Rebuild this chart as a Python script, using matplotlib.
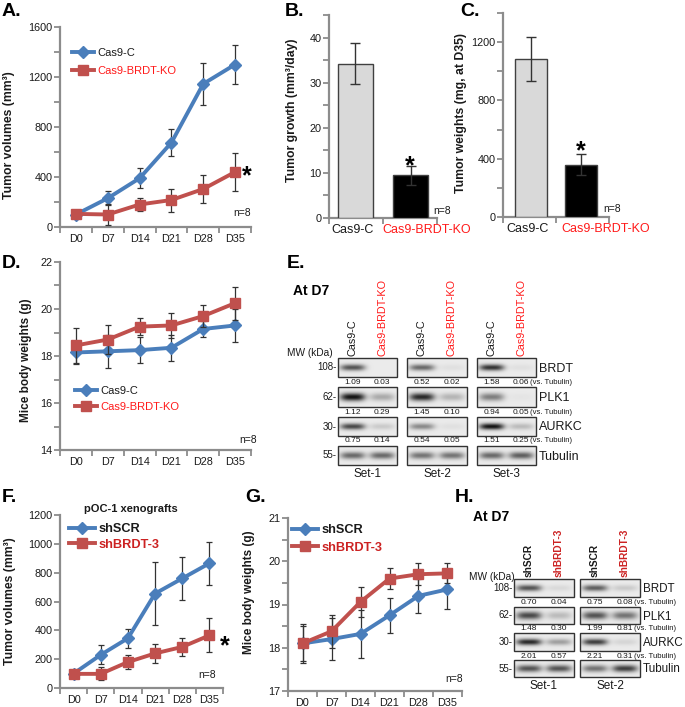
import numpy as np
import matplotlib
matplotlib.use('Agg')
import matplotlib.pyplot as plt
from matplotlib.transforms import ScaledTranslation
from matplotlib.lines import Line2D
from matplotlib.patches import Rectangle

W, H = 685, 707
plt.rcParams['font.family'] = ['Liberation Sans', 'DejaVu Sans']

days = ['D0', 'D7', 'D14', 'D21', 'D28', 'D35']

# Panel A: tumor volumes (mm3)
a_ctrl = [100, 230, 390, 675, 1145, 1300]
a_ctrl_err = [20, 55, 80, 110, 170, 155]
a_ko = [105, 100, 180, 216, 304, 440]
a_ko_err = [25, 85, 50, 92, 112, 155]

# Panels B, C
bc_groups = ['Cas9-C', 'Cas9-BRDT-KO']
b_vals = [34.2, 9.5]
b_err = [4.5, 2.1]
c_vals = [1085, 360]
c_err = [150, 75]

# Panel D: body weights (g)
d_ctrl = [18.15, 18.2, 18.25, 18.35, 19.15, 19.3]
d_ctrl_err = [0.5, 0.7, 0.55, 0.55, 0.35, 0.7]
d_ko = [18.45, 18.7, 19.25, 19.3, 19.7, 20.25]
d_ko_err = [0.75, 0.6, 0.35, 0.55, 0.45, 0.7]

# Panel F: pOC-1 tumor volumes
f_ctrl = [100, 230, 345, 655, 760, 865]
f_ctrl_err = [15, 65, 65, 220, 150, 148]
f_kd = [98, 98, 180, 240, 285, 365]
f_kd_err = [20, 45, 50, 65, 60, 118]

# Panel G: body weights (g)
g_ctrl = [18.1, 18.2, 18.32, 18.75, 19.2, 19.35]
g_ctrl_err = [0.45, 0.48, 0.55, 0.4, 0.4, 0.45]
g_kd = [18.1, 18.38, 19.06, 19.6, 19.7, 19.72]
g_kd_err = [0.4, 0.38, 0.35, 0.25, 0.26, 0.23]

# Panel E western blots
e_proteins = ['BRDT', 'PLK1', 'AURKC', 'Tubulin']
e_mw = ['108-', '62-', '30-', '55-']
e_sets = ['Set-1', 'Set-2', 'Set-3']
e_lanes = ['Cas9-C', 'Cas9-BRDT-KO']
e_brdt_quant = [['1.09', '0.03'], ['0.52', '0.02'], ['1.58', '0.06']]
e_plk1_quant = [['1.12', '0.29'], ['1.45', '0.10'], ['0.94', '0.05']]
e_aurkc_quant = [['0.75', '0.14'], ['0.54', '0.05'], ['1.51', '0.25']]
e_brdt_band = [[0.7, 0.0], [0.6, 0.05], [0.85, 0.05]]
e_plk1_band = [[1.0, 0.3], [0.9, 0.25], [0.5, 0.03]]
e_aurkc_band = [[0.75, 0.15], [0.45, 0.05], [1.0, 0.22]]
e_tub_band = [[0.6, 0.6], [0.55, 0.55], [0.6, 0.65]]

# Panel H western blots
h_sets = ['Set-1', 'Set-2']
h_lanes = ['shSCR', 'shBRDT-3']
h_brdt_quant = [['0.70', '0.04'], ['0.75', '0.08']]
h_plk1_quant = [['1.48', '0.30'], ['1.99', '0.81']]
h_aurkc_quant = [['2.01', '0.57'], ['2.21', '0.31']]
h_brdt_band = [[0.7, 0.08], [0.65, 0.15]]
h_plk1_band = [[0.75, 0.22], [0.7, 0.55]]
h_aurkc_band = [[0.9, 0.35], [0.8, 0.1]]
h_tub_band = [[0.7, 0.7], [0.55, 0.8]]

BLUE = '#4a7ebb'
RED = '#c0504d'
GRAY = '#8c8c8c'
ERR = '#333333'
TXT = '#1a1a1a'
KO_RED = '#ff1a1a'
SH_RED = '#cc2222'

fig = plt.figure(figsize=(W / 100, H / 100), dpi=100)


def px_axes(l, t, r, b):
    return fig.add_axes([l / W, 1 - b / H, (r - l) / W, (b - t) / H])


def style(ax):
    for s in ['top', 'right']:
        ax.spines[s].set_visible(False)
    for s in ['left', 'bottom']:
        ax.spines[s].set_color(GRAY)
        ax.spines[s].set_linewidth(1.6)
    ax.tick_params(which='both', colors=GRAY, labelcolor=TXT, width=1.3,
                   length=4, labelsize=7.8, pad=1.5)
    ax.set_facecolor('none')


def line_panel(ax, ctrl, ctrl_err, ko, ko_err, ylim, yticks, yminor):
    style(ax)
    x = np.arange(len(days))
    ax.errorbar(x, ctrl, yerr=ctrl_err, color=BLUE, lw=2.8, marker='D', ms=6.5,
                ecolor=ERR, elinewidth=0.9, capsize=2.5, capthick=0.9, zorder=3)
    ax.errorbar(x, ko, yerr=ko_err, color=RED, lw=2.8, marker='s', ms=7.5,
                ecolor=ERR, elinewidth=0.9, capsize=2.5, capthick=0.9, zorder=4)
    ax.set_xlim(-0.5, len(days) - 0.5)
    ax.set_xticks(x)
    ax.set_xticklabels(days)
    ax.tick_params(axis='x', which='major', length=0, pad=5)
    ax.set_xticks(np.arange(-0.5, len(days), 1), minor=True)
    ax.set_ylim(*ylim)
    ax.set_yticks(yticks)
    if yminor is not None:
        ax.set_yticks(yminor, minor=True)


def legend(ax, x_px, y_px, labels, colors, fs, bold, spacing):
    handles = [Line2D([], [], color=BLUE, lw=2.8, marker='D', ms=6.5),
               Line2D([], [], color=RED, lw=2.8, marker='s', ms=7.5)]
    leg = ax.legend(handles, labels, loc='upper left',
                    bbox_to_anchor=(x_px / W, 1 - y_px / H),
                    bbox_transform=fig.transFigure, frameon=False, fontsize=fs,
                    handlelength=2.0, handletextpad=0.3, labelspacing=spacing,
                    borderpad=0, borderaxespad=0, numpoints=1)
    for t, c in zip(leg.get_texts(), colors):
        t.set_color(c)
        if bold:
            t.set_fontweight('bold')


def bar_panel(ax, vals, err, ylim, yticks, yminor, xlim, shifts):
    style(ax)
    x = np.arange(len(bc_groups))
    ax.bar(x, vals, width=0.64, color=['#d9d9d9', '#000000'], edgecolor='#404040',
           lw=1.0, yerr=err, ecolor=ERR, capsize=3.5,
           error_kw=dict(elinewidth=1.0, capthick=1.0), zorder=3)
    ax.set_xlim(*xlim)
    ax.set_xticks(x)
    ax.set_xticklabels(bc_groups, fontsize=9)
    ax.tick_params(axis='x', which='major', length=0, pad=4)
    ax.set_xticks([xlim[0], 0.5, xlim[1]], minor=True)
    ax.set_ylim(*ylim)
    ax.set_yticks(yticks)
    ax.set_yticks(yminor, minor=True)
    labs = ax.get_xticklabels()
    labs[1].set_color(KO_RED)
    for lab, dx in zip(labs, shifts):
        lab.set_transform(lab.get_transform() + ScaledTranslation(dx / 100, 0, fig.dpi_scale_trans))


# ---------- A ----------
axA = px_axes(60, 27, 251, 227)
line_panel(axA, a_ctrl, a_ctrl_err, a_ko, a_ko_err, (0, 1600),
           [0, 400, 800, 1200, 1600], [200, 600, 1000, 1400])
axA.set_ylabel('Tumor volumes (mm³)', fontsize=8.8, fontweight='bold', color=TXT)
axA.yaxis.set_label_coords((15 - 60) / 191, 0.46)
legend(axA, 72, 48, ['Cas9-C', 'Cas9-BRDT-KO'], [TXT, KO_RED], 8, False, 0.75)

# ---------- B ----------
axB = px_axes(329, 15, 437, 218)
bar_panel(axB, b_vals, b_err, (0, 45), [0, 10, 20, 30, 40], [5, 15, 25, 35, 45],
          (-0.48, 1.48), [-3, 16])
axB.set_ylabel('Tumor growth (mm³/day)', fontsize=8.8, fontweight='bold', color=TXT)
axB.yaxis.set_label_coords((298 - 329) / 108, 0.53)

# ---------- C ----------
axC = px_axes(503, 13, 609, 217)
bar_panel(axC, c_vals, c_err, (0, 1400), [0, 400, 800, 1200], [200, 600, 1000, 1400],
          (-0.56, 1.56), [-3, 25])
axC.set_ylabel('Tumor weights (mg, at D35)', fontsize=8.8, fontweight='bold', color=TXT)
axC.yaxis.set_label_coords((467 - 503) / 106, 0.51)

# ---------- D ----------
axD = px_axes(60, 262, 251, 450)
line_panel(axD, d_ctrl, d_ctrl_err, d_ko, d_ko_err, (14, 22),
           [14, 16, 18, 20, 22], [15, 17, 19, 21])
axD.set_ylabel('Mice body weights (g)', fontsize=8.5, fontweight='bold', color=TXT)
axD.yaxis.set_label_coords((32 - 60) / 191, 0.48)
legend(axD, 75, 386, ['Cas9-C', 'Cas9-BRDT-KO'], [TXT, KO_RED], 8, False, 0.55)

# ---------- F ----------
axF = px_axes(60, 515, 223, 688)
line_panel(axF, f_ctrl, f_ctrl_err, f_kd, f_kd_err, (0, 1200),
           [0, 200, 400, 600, 800, 1000, 1200], None)
axF.set_ylabel('Tumor volumes (mm³)', fontsize=8.8, fontweight='bold', color=TXT)
axF.yaxis.set_label_coords((16 - 60) / 163, 0.5)
legend(axF, 69, 523, ['shSCR', 'shBRDT-3'], [TXT, SH_RED], 9.2, True, 0.3)

# ---------- G ----------
axG = px_axes(288, 518, 462, 691)
line_panel(axG, g_ctrl, g_ctrl_err, g_kd, g_kd_err, (17, 21),
           [17, 18, 19, 20, 21], [17.5, 18.5, 19.5, 20.5])
axG.set_ylabel('Mice body weights (g)', fontsize=8.5, fontweight='bold', color=TXT)
axG.yaxis.set_label_coords((255 - 288) / 174, 0.57)
legend(axG, 292, 524, ['shSCR', 'shBRDT-3'], [TXT, SH_RED], 9.2, True, 0.45)

# ---------- overlay for annotations and blots ----------
ov = fig.add_axes([0, 0, 1, 1], zorder=10)
ov.set_xlim(0, W)
ov.set_ylim(H, 0)
ov.axis('off')
ov.patch.set_alpha(0)

for letter, x, y in [('A.', 2, 12), ('B.', 285, 12), ('C.', 460, 12), ('D.', 2, 263),
                     ('E.', 287, 263), ('F.', 2, 497), ('G.', 245, 497), ('H.', 455, 498)]:
    ov.text(x, y, letter, fontsize=14, fontweight='bold', va='center', ha='left', color='black')

# asterisks and n=8
for x, y in [(247, 176), (410, 166), (581, 151), (225, 646)]:
    ov.text(x, y, '*', fontsize=18, fontweight='bold', ha='center', va='center', color='black')
for x, y in [(242, 213), (442, 211), (612, 209), (248, 440), (207, 675), (454, 679)]:
    ov.text(x, y, 'n=8', fontsize=7.5, ha='center', va='center', color=TXT)

ov.text(131, 509, 'pOC-1 xenografts', fontsize=8, fontweight='bold', ha='center', va='center', color=TXT)


def draw_blot(x0, y0, x1, y1, intens, wy, bg=0.92):
    nx = int((x1 - x0) * 4)
    ny = int((y1 - y0) * 4)
    xs = np.linspace(x0, x1, nx)
    ys = np.linspace(y0, y1, ny)
    X, Y = np.meshgrid(xs, ys)
    img = np.full_like(X, bg)
    cy = (y0 + y1) / 2
    w = x1 - x0
    for k, I in enumerate(intens):
        cx = x0 + w * (0.25 + 0.5 * k)
        dark = I * np.exp(-np.abs((X - cx) / (w * 0.21)) ** 3.5) * np.exp(-((Y - cy) / wy) ** 2)
        img -= 0.85 * dark
    img = np.clip(img, 0, 1)
    ov.imshow(img, extent=(x0, x1, y1, y0), cmap='gray', vmin=0, vmax=1,
              aspect='auto', interpolation='bilinear', zorder=2)
    ov.add_patch(Rectangle((x0, y0), x1 - x0, y1 - y0, fill=False, ec='#333333',
                           lw=1.0, zorder=3))


def blot_panel(boxes_x, rows_y, bands, quants, sets, lanes, proteins, mw,
               lane_fs, lane_bold, lane_red, mw_xy, atd7_xy, set_y, quant_dy, prot_fs):
    wys = [3.2, 4.0, 3.2, 3.6]
    for r, (y0, y1) in enumerate(rows_y):
        for s, (x0, x1) in enumerate(boxes_x):
            draw_blot(x0, y0, x1, y1, bands[r][s], wys[r])
        ov.text(boxes_x[0][0] - 1, (y0 + y1) / 2, mw[r], fontsize=7, ha='right',
                va='center', color=TXT)
        ov.text(boxes_x[-1][1] + 3, (y0 + y1) / 2 + 1, proteins[r], fontsize=prot_fs,
                ha='left', va='center', color=TXT)
        if r < 3:
            qy = y1 + quant_dy
            for s, (x0, x1) in enumerate(boxes_x):
                w = x1 - x0
                for k in range(2):
                    ov.text(x0 + w * (0.25 + 0.5 * k), qy, quants[r][s][k], fontsize=6,
                            ha='center', va='center', color=TXT)
            x0, x1 = boxes_x[-1]
            ov.text(x0 + (x1 - x0) * 0.75 + 9, qy, '(vs. Tubulin)', fontsize=5.6,
                    ha='left', va='center', color=TXT)
    top = rows_y[0][0]
    for s, (x0, x1) in enumerate(boxes_x):
        w = x1 - x0
        for k in range(2):
            ov.text(x0 + w * (0.25 + 0.5 * k), top - 2, lanes[k], rotation=90,
                    fontsize=lane_fs, fontweight='bold' if lane_bold else 'normal',
                    ha='center', va='bottom', color=lane_red if k == 1 else TXT)
        ov.text((x0 + x1) / 2, set_y, sets[s], fontsize=8.5, ha='center', va='center',
                color=TXT)
    ov.text(mw_xy[0], mw_xy[1], 'MW (kDa)', fontsize=7.3, ha='center', va='center', color=TXT)
    ov.text(atd7_xy[0], atd7_xy[1], 'At D7', fontsize=10, fontweight='bold', ha='left',
            va='center', color='black')


e_bands = [e_brdt_band, e_plk1_band, e_aurkc_band, e_tub_band]
e_quants = [e_brdt_quant, e_plk1_quant, e_aurkc_quant]
blot_panel([(338, 397), (407, 467), (477, 536)],
           [(358, 377), (387, 407), (417, 436), (446, 465)],
           e_bands, e_quants, e_sets, e_lanes, e_proteins, e_mw,
           7.8, False, KO_RED, (310, 353), (293, 291), 474, 5, 9)

h_bands = [h_brdt_band, h_plk1_band, h_aurkc_band, h_tub_band]
h_quants = [h_brdt_quant, h_plk1_quant, h_aurkc_quant]
blot_panel([(514, 574), (580, 640)],
           [(579, 597), (607, 624), (633, 651), (660, 677)],
           h_bands, h_quants, h_sets, h_lanes, e_proteins, e_mw,
           7.3, True, SH_RED, (492, 577), (473, 517), 686, 5, 8.4)

ov.set_xlim(0, W)
ov.set_ylim(H, 0)

fig.savefig('out.png', dpi=100)
